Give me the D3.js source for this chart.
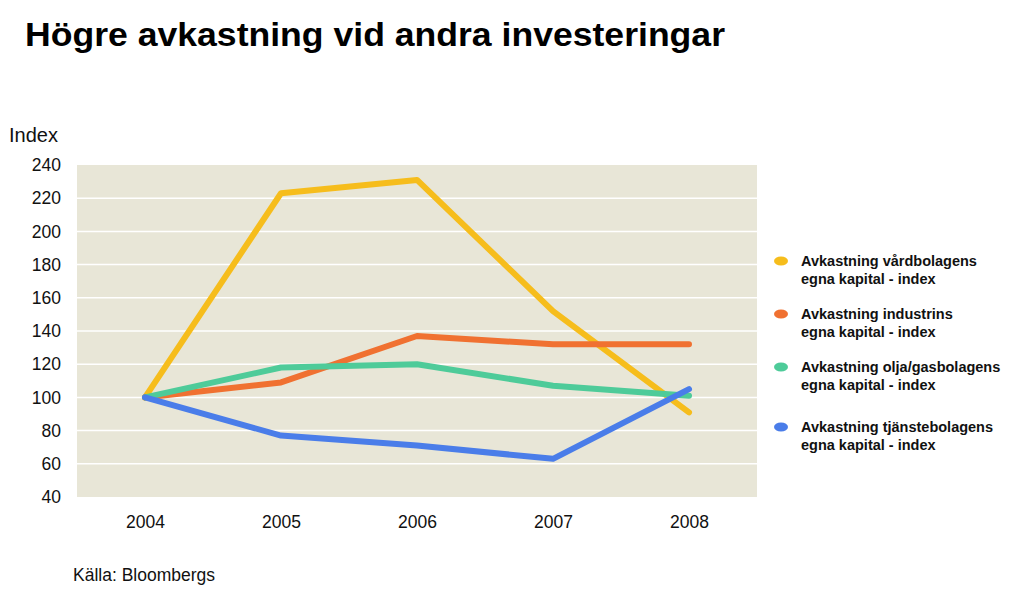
<!DOCTYPE html>
<html><head><meta charset="utf-8">
<script src="https://cdn.jsdelivr.net/npm/d3@7"></script>
<style>body{margin:0;background:#fff;}svg{display:block;font-family:"Liberation Sans",Arial,sans-serif;}</style>
</head><body>
<svg id="c" width="1024" height="594"></svg>
<script>
const years = ["2004","2005","2006","2007","2008"];
const yTicks = [40,60,80,100,120,140,160,180,200,220,240];
const vard = [100,223,231,152,91];
const industri = [100,109,137,132,132];
const olja = [100,118,120,107,101];
const tjanst = [100,77,71,63,105];
const seriesNames = [
  ["Avkastning vårdbolagens","egna kapital - index"],
  ["Avkastning industrins","egna kapital - index"],
  ["Avkastning olja/gasbolagens","egna kapital - index"],
  ["Avkastning tjänstebolagens","egna kapital - index"]
];
const colors = ["#f6bd1c","#f07131","#4ecb99","#4a7de9"];
const series = [vard, industri, olja, tjanst];

const svg = d3.select("#c");
const L=77, R=757, T=165, B=497;
const x = d3.scalePoint().domain(years).range([L,R]).padding(0.5);
const y = d3.scaleLinear().domain([40,240]).range([B,T]);

svg.append("text").attr("x",25).attr("y",46).attr("font-size",33).attr("font-weight","bold")
  .attr("fill","#000").attr("textLength",700).attr("lengthAdjust","spacingAndGlyphs")
  .text("Högre avkastning vid andra investeringar");

svg.append("rect").attr("x",L).attr("y",T).attr("width",R-L).attr("height",B-T).attr("fill","#e8e6d7");

svg.append("g").selectAll("line").data(yTicks.filter(d=>d>40&&d<240)).join("line")
  .attr("x1",L).attr("x2",R).attr("y1",d=>y(d)).attr("y2",d=>y(d))
  .attr("stroke","#fff").attr("stroke-width",1.5);

const yAxis = svg.append("g").attr("transform",`translate(${L},0)`)
  .call(d3.axisLeft(y).tickValues(yTicks).tickSize(0).tickPadding(16));
yAxis.select(".domain").remove();
yAxis.selectAll("text").attr("font-size",17.5).attr("fill","#111").attr("font-family","Liberation Sans, Arial, sans-serif");

const xAxis = svg.append("g").attr("transform",`translate(0,${B})`)
  .call(d3.axisBottom(x).tickSize(0).tickPadding(19));
xAxis.select(".domain").remove();
xAxis.selectAll("text").attr("font-size",17.5).attr("fill","#111").attr("font-family","Liberation Sans, Arial, sans-serif");

svg.append("text").attr("x",9).attr("y",142).attr("font-size",20).attr("fill","#111").text("Index");

const line = d3.line().x((d,i)=>x(years[i])).y(d=>y(d));
svg.append("g").selectAll("path").data(series).join("path")
  .attr("d",line).attr("fill","none").attr("stroke",(d,i)=>colors[i])
  .attr("stroke-width",6).attr("stroke-linecap","round").attr("stroke-linejoin","round");

const legY = [261,314,367,427];
const lg = svg.append("g");
seriesNames.forEach((n,i)=>{
  lg.append("ellipse").attr("cx",781).attr("cy",legY[i]).attr("rx",7).attr("ry",4.5).attr("fill",colors[i]);
  lg.append("text").attr("x",801).attr("y",legY[i]+5).attr("font-size",14.5).attr("font-weight","bold").attr("fill","#111").text(n[0]);
  lg.append("text").attr("x",801).attr("y",legY[i]+23).attr("font-size",14.5).attr("font-weight","bold").attr("fill","#111").text(n[1]);
});

svg.append("text").attr("x",73).attr("y",581).attr("font-size",17.5).attr("fill","#111").text("Källa: Bloombergs");
</script>
</body></html>
